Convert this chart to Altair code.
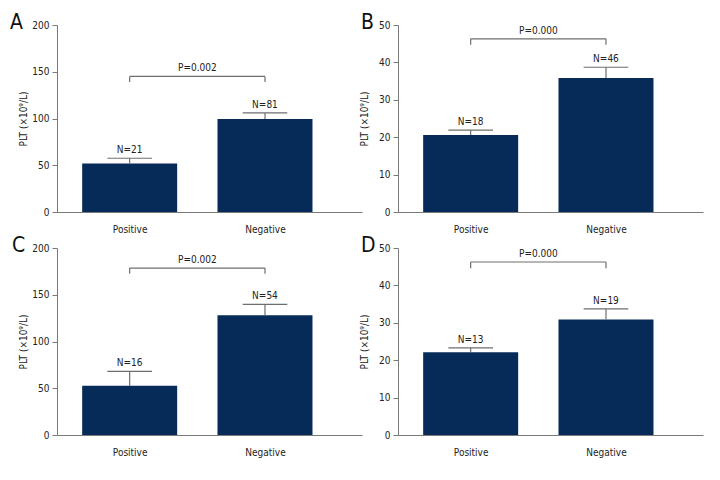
import altair as alt
import pandas as pd

FONT = "DejaVu Sans Condensed, Liberation Sans Narrow, sans-serif"
NAVY = "#062b58"
GRAY = "#6e6e6e"
FS = 10

groups = ["Positive", "Negative"]
positions = [1, 2]

# Panel A
a_mean = [52.0, 99.5]
a_upper = [57.5, 106.0]
a_n = [21, 81]
a_p = "P=0.002"
a_bracket = [145.0, 139.0]
a_ticks = [0, 50, 100, 150, 200]

# Panel B
b_mean = [20.6, 35.8]
b_upper = [21.9, 38.7]
b_n = [18, 46]
b_p = "P=0.000"
b_bracket = [46.3, 44.7]
b_ticks = [0, 10, 20, 30, 40, 50]

# Panel C
c_mean = [52.8, 128.0]
c_upper = [68.0, 139.6]
c_n = [16, 54]
c_p = "P=0.002"
c_bracket = [178.5, 172.5]
c_ticks = [0, 50, 100, 150, 200]

# Panel D
d_mean = [22.1, 30.9]
d_upper = [23.3, 33.7]
d_n = [13, 19]
d_p = "P=0.000"
d_bracket = [46.25, 44.6]
d_ticks = [0, 10, 20, 30, 40, 50]

W, H = 305, 187


def panel(letter, mean, upper, n, p, bracket, ticks, letter_dx):
    df = pd.DataFrame({
        "group": groups,
        "pos": positions,
        "mean": mean,
        "upper": upper,
        "n": [f"N={v}" for v in n],
    })
    ymax = ticks[-1]
    xs = alt.Scale(domain=[0.5, 2.68], nice=False, zero=False)
    ys = alt.Scale(domain=[0, ymax], nice=False)
    x_axis = alt.Axis(values=positions, labelExpr="datum.value == 1 ? 'Positive' : 'Negative'",
                      ticks=False, labelPadding=12, title=None, grid=False, labelFontSize=FS,
                      labelFont=FONT, labelColor="#222", domainColor="#7a7a7a")
    y_axis = alt.Axis(values=ticks, tickCount=len(ticks), title="PLT (×10⁹/L)", grid=False, tickSize=5,
                      labelFontSize=FS, labelFont=FONT, labelColor="#222", labelOverlap=False,
                      titleFont=FONT, titleFontSize=FS, titleFontWeight="normal", titleColor="#222",
                      titleX=-29, domainColor="#7a7a7a", tickColor="#7a7a7a", labelPadding=3)

    def X(field):
        return alt.X(field, scale=xs, axis=x_axis)

    def Y(field):
        return alt.Y(field, scale=ys, axis=y_axis)

    base = alt.Chart(df)
    bars = base.mark_bar(size=95, color=NAVY).encode(x=X("pos:Q"), y=Y("mean:Q"))
    stem = base.mark_rule(color=GRAY, strokeWidth=1.2).encode(
        x=X("pos:Q"), y=Y("mean:Q"), y2="upper:Q")
    cap = base.transform_calculate(xl="datum.pos - 0.165", xr="datum.pos + 0.165").mark_rule(
        color=GRAY, strokeWidth=1.2).encode(x=X("xl:Q"), x2="xr:Q", y=Y("upper:Q"))
    ntext = base.mark_text(baseline="bottom", dy=-3, font=FONT, fontSize=FS, color="#222").encode(
        x=X("pos:Q"), y=Y("upper:Q"), text="n:N")
    bdf = pd.DataFrame({"x1": [positions[0]], "x2": [positions[1]], "top": [bracket[0]],
                        "foot": [bracket[1]], "p": [p], "letter": [letter]})
    bbase = alt.Chart(bdf)
    bar_h = bbase.mark_rule(color=GRAY, strokeWidth=1.2).encode(
        x=X("x1:Q"), x2="x2:Q", y=Y("top:Q"))
    foot1 = bbase.mark_rule(color=GRAY, strokeWidth=1.2).encode(
        x=X("x1:Q"), y=Y("foot:Q"), y2="top:Q")
    foot2 = bbase.mark_rule(color=GRAY, strokeWidth=1.2).encode(
        x=X("x2:Q"), y=Y("foot:Q"), y2="top:Q")
    ptext = bbase.transform_calculate(mid="(datum.x1 + datum.x2) / 2").mark_text(
        baseline="bottom", dy=-3, font=FONT, fontSize=FS, color="#222").encode(
        x=X("mid:Q"), y=Y("top:Q"), text="p:N")
    lettertext = bbase.mark_text(align="left", baseline="alphabetic", font=FONT, fontSize=21,
                                 color="#111").encode(
        x=alt.value(letter_dx), y=alt.value(4), text="letter:N")
    return alt.layer(bars, stem, cap, ntext, bar_h, foot1, foot2, ptext, lettertext).properties(
        width=W, height=H)


A = panel("A", a_mean, a_upper, a_n, a_p, a_bracket, a_ticks, -47)
B = panel("B", b_mean, b_upper, b_n, b_p, b_bracket, b_ticks, -37)
C = panel("C", c_mean, c_upper, c_n, c_p, c_bracket, c_ticks, -45)
D = panel("D", d_mean, d_upper, d_n, d_p, d_bracket, d_ticks, -37)

chart = alt.concat(A, B, C, D, columns=2, spacing=36, bounds="flush").properties(
    padding={"left": 2, "top": 4, "right": 5, "bottom": 5}).configure_view(stroke=None)

chart.save("out.html", embed_options={"renderer": "svg", "actions": False})
